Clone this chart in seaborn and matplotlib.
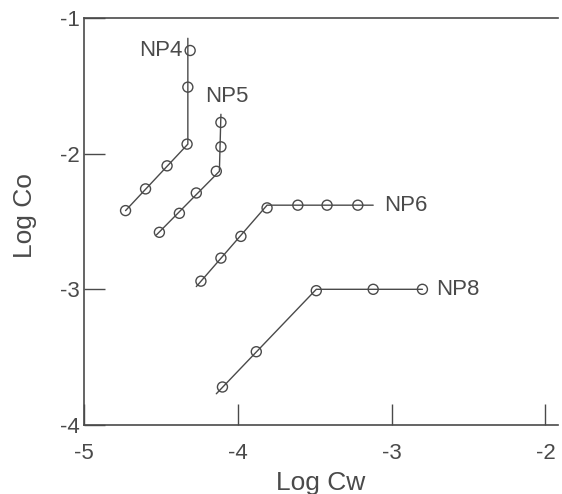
#!/usr/bin/env python
# encoding: utf-8
"""
Log Co vs Log Cw for the NP series (markers + fitted segments)
"""

import matplotlib
matplotlib.use("Agg")
import matplotlib.pyplot as plt
import seaborn as sns
sns.set_style("ticks")
plt.rcParams['font.family'] = ['Liberation Sans', 'DejaVu Sans']

INK = "#4a4a4a"

# measured points
np4_x = [-4.73, -4.60, -4.46, -4.33, -4.325, -4.31]
np4_y = [-2.42, -2.26, -2.09, -1.93, -1.51, -1.24]
np5_x = [-4.51, -4.38, -4.27, -4.14, -4.11, -4.11]
np5_y = [-2.58, -2.44, -2.29, -2.13, -1.95, -1.77]
np6_x = [-4.24, -4.11, -3.98, -3.81, -3.61, -3.42, -3.22]
np6_y = [-2.94, -2.77, -2.61, -2.40, -2.38, -2.38, -2.38]
np8_x = [-4.10, -3.88, -3.49, -3.12, -2.80]
np8_y = [-3.72, -3.46, -3.01, -3.00, -3.00]

# fitted segments (slope part + plateau)
np4_line_x = [-4.73, -4.325, -4.325]
np4_line_y = [-2.42, -1.93, -1.15]
np5_line_x = [-4.53, -4.12, -4.11]
np5_line_y = [-2.60, -2.13, -1.71]
np6_line_x = [-4.27, -3.81, -3.12]
np6_line_y = [-2.98, -2.38, -2.38]
np8_line_x = [-4.14, -3.49, -2.80]
np8_line_y = [-3.77, -3.00, -3.00]

names = ["NP4", "NP5", "NP6", "NP8"]
label_x = [-4.36, -4.21, -3.05, -2.71]
label_y = [-1.24, -1.58, -2.38, -3.00]
label_ha = ["right", "left", "left", "left"]

fig = plt.figure(figsize=(5.62, 4.94), dpi=100)
ax = fig.add_axes([0.1495, 0.1397, 0.843, 0.824])

series = [
    (np4_x, np4_y, np4_line_x, np4_line_y),
    (np5_x, np5_y, np5_line_x, np5_line_y),
    (np6_x, np6_y, np6_line_x, np6_line_y),
    (np8_x, np8_y, np8_line_x, np8_line_y),
]
for px, py, lx, ly in series:
    sns.lineplot(x=lx, y=ly, sort=False, estimator=None, color=INK,
                 linewidth=1.0, ax=ax)
    sns.scatterplot(x=px, y=py, marker="o", s=52, facecolors="none",
                    edgecolor=INK, linewidth=1.0, zorder=3, ax=ax)

for name, tx, ty, ha in zip(names, label_x, label_y, label_ha):
    ax.text(tx, ty, name, ha=ha, va="center", fontsize=16, color=INK)

ax.set_xlim(-5, -1.92)
ax.set_ylim(-4, -1)
ax.set_xticks([-5, -4, -3, -2])
ax.set_yticks([-4, -3, -2, -1])
ax.set_xticklabels(["-5", "-4", "-3", "-2"])
ax.set_yticklabels(["-4", "-3", "-2", "-1"])
ax.tick_params(axis="both", direction="in", length=15, width=1.0,
               color=INK, labelcolor=INK, labelsize=16)
ax.tick_params(axis="x", pad=13)
ax.tick_params(axis="y", pad=3)

for side in ["left", "bottom", "top"]:
    ax.spines[side].set_color(INK)
    ax.spines[side].set_linewidth(1.2)
ax.spines["right"].set_visible(False)

ax.set_xlabel("Log Cw", fontsize=19, color=INK, labelpad=5)
ax.set_ylabel("Log Co", fontsize=19, color=INK)
ax.yaxis.set_label_coords(-0.10, 0.515)

fig.savefig("out.png", dpi=100)
